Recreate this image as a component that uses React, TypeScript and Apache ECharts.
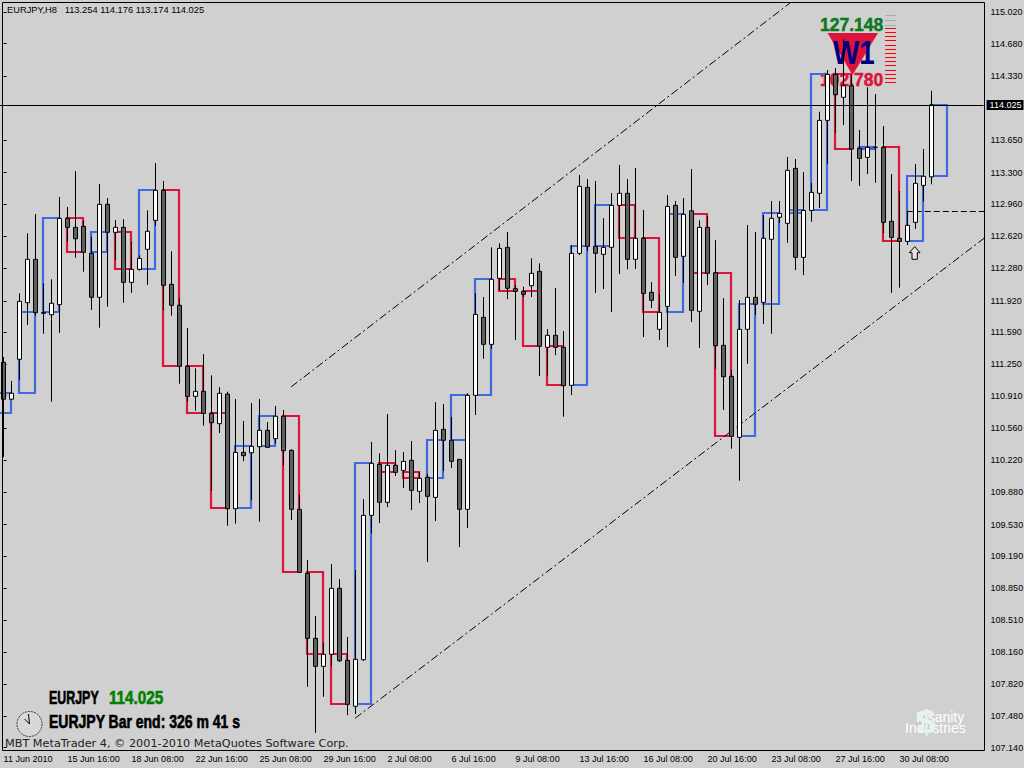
import React, { useEffect, useRef } from "react";
import * as echarts from "echarts";

const BG = "#D0D0D0";
const FONT = "'Liberation Sans', Arial, sans-serif";
const BLUE = "#4169E1";
const RED = "#DC143C";

const opens = [111.268,110.872,111.300,111.906,112.371,111.799,111.777,111.885,112.810,112.713,112.724,112.435,111.964,112.960,112.660,112.713,112.124,112.264,112.478,112.788,113.110,112.103,111.878,111.225,110.903,110.957,110.721,110.610,110.928,109.699,110.303,110.299,110.363,110.539,110.450,110.690,110.325,109.693,109.007,108.311,108.011,108.140,108.847,108.075,107.583,108.082,109.628,110.175,109.768,110.164,110.110,110.218,109.886,110.036,109.821,110.550,110.432,110.228,109.693,110.914,111.749,111.460,112.167,112.499,112.056,112.024,112.088,112.242,111.428,111.557,111.428,111.021,112.435,113.142,112.510,112.424,112.499,112.949,113.078,112.371,112.596,112.017,111.621,111.867,112.949,112.403,112.891,111.814,112.713,112.227,111.450,111.117,110.464,111.621,111.964,111.910,112.585,112.821,112.756,113.345,112.392,112.895,113.078,113.859,114.352,114.106,114.230,113.560,113.463,113.570,113.570,112.778,112.596,112.563,112.767,113.163,113.254];
const closes = [110.872,110.936,111.921,112.371,111.799,111.792,111.900,112.810,112.713,112.591,112.446,111.964,112.960,112.660,112.713,112.124,112.264,112.381,112.671,113.110,112.092,111.878,111.225,110.903,110.957,110.721,110.621,110.936,109.699,110.303,110.267,110.368,110.539,110.357,110.690,110.321,109.693,109.018,108.311,108.011,108.140,108.847,108.071,107.604,108.086,109.628,110.186,109.768,110.164,110.089,110.207,109.896,110.025,109.832,110.539,110.432,110.207,109.693,110.914,111.781,111.460,112.157,112.488,112.060,112.028,111.996,112.221,111.439,111.557,111.428,111.017,112.435,113.153,112.510,112.435,112.499,112.949,113.078,112.371,112.596,112.006,111.932,111.803,112.938,112.392,112.853,111.824,112.713,112.221,111.445,111.113,110.475,111.621,111.964,111.889,112.596,112.810,112.863,113.324,112.392,112.895,113.088,113.859,114.352,114.134,114.230,113.552,113.452,113.570,113.570,112.767,112.606,112.563,112.735,113.185,113.260,114.025];
const lows = [110.253,110.864,111.078,111.667,111.767,111.574,110.846,111.584,112.556,112.388,112.238,111.828,111.638,111.863,112.363,111.906,112.013,112.249,112.098,112.727,111.828,111.767,111.038,110.846,110.749,110.589,109.889,110.510,109.517,109.539,110.210,109.792,109.560,110.350,110.400,110.157,109.578,109.011,107.792,107.300,107.685,108.014,108.057,107.489,107.500,108.071,109.436,109.546,109.717,110.050,109.921,109.685,109.760,109.128,109.568,110.103,110.135,109.289,109.492,110.703,111.306,111.410,112.039,111.945,111.506,111.967,111.967,111.121,111.121,111.345,110.685,110.917,112.417,112.460,112.010,112.053,111.806,112.213,112.264,112.267,111.538,111.849,111.506,111.431,112.192,112.117,111.699,111.421,112.095,111.199,110.757,110.342,109.999,111.252,111.774,111.678,111.574,112.759,112.548,112.256,112.202,112.773,112.920,113.391,113.727,113.809,113.209,113.156,113.284,113.191,112.652,112.013,112.067,112.524,112.698,112.992,113.174];
const highs = [111.324,111.068,112.007,112.649,112.856,112.114,112.157,113.038,112.931,113.316,112.784,112.613,113.177,113.027,112.792,112.799,112.556,112.413,112.895,113.402,113.209,112.456,111.953,111.635,111.203,111.356,111.128,111.000,110.953,110.874,110.639,110.832,110.874,110.628,110.800,110.757,110.336,109.857,109.150,108.550,108.264,109.107,108.946,108.325,109.043,109.803,110.414,110.293,110.714,110.328,110.307,110.425,110.096,110.071,110.842,110.821,110.682,110.232,110.936,112.007,111.967,112.499,112.542,112.663,112.095,112.077,112.381,112.328,111.624,112.063,111.603,112.521,113.274,113.231,113.209,112.813,113.081,113.381,113.231,113.349,112.899,112.127,111.999,113.059,112.995,113.027,113.338,112.788,112.834,112.577,111.956,111.185,111.935,112.738,112.663,112.845,112.995,112.995,113.466,113.445,113.306,113.188,113.952,114.398,114.420,114.727,114.345,113.756,114.213,114.141,113.798,113.284,113.102,112.891,113.391,113.552,114.176];

const dailyOpen = [110.724,110.942,111.809,112.813,112.452,112.666,112.270,113.113,111.228,110.724,109.707,110.371,110.694,109.021,108.140,107.611,110.192,110.092,110.028,110.435,110.920,112.163,112.031,111.442,111.024,112.513,112.956,112.596,111.806,112.859,112.224,110.481,111.895,112.870,112.899,114.355,113.552,113.577,112.570,113.266];
const dailyClose = [110.942,111.809,112.813,112.452,112.666,112.270,113.113,111.228,110.724,109.707,110.371,110.694,109.021,108.140,107.611,110.192,110.092,110.028,110.435,110.920,112.163,112.031,111.442,111.024,112.513,112.956,112.596,111.806,112.859,112.224,110.481,111.895,112.870,112.899,114.355,113.552,113.577,112.570,113.266,114.023];

const timeLabels = ["11 Jun 2010","15 Jun 16:00","18 Jun 08:00","22 Jun 16:00","25 Jun 08:00","29 Jun 16:00","2 Jul 08:00","6 Jul 16:00","9 Jul 08:00","13 Jul 16:00","16 Jul 08:00","20 Jul 16:00","23 Jul 08:00","27 Jul 16:00","30 Jul 08:00"];
const priceTicks = [115.02,114.68,114.33,113.65,113.3,112.96,112.62,112.28,111.92,111.59,111.25,110.91,110.56,110.22,109.88,109.53,109.19,108.85,108.51,108.16,107.82,107.48,107.14];
const trendLines = [
  [35.925, 111.003, 98.3, 115.116],
  [43.925, 107.454, 122.6, 112.599],
];
const levelLine = [112.9, 112.885, 122.6, 112.885];
const currentPrice = 114.025;

const SLOTS = 123;
const BARS_PER_DAY = 3;
const LABEL_STEP = 8;

const categories = Array.from({ length: SLOTS }, (_, i) =>
  i % LABEL_STEP === 0 ? timeLabels[i / LABEL_STEP] || "" : ""
);
const candles = opens.map((o, i) => [o, closes[i], lows[i], highs[i]]);
const boxes = dailyOpen.map((o, k) => [
  -1 + k * BARS_PER_DAY,
  1 + k * BARS_PER_DAY,
  o,
  dailyClose[k],
]);

const textEl = (text: string, x: number, y: number, fontSize: number, fill: string, extra: any = {}, scaleX = 1) => ({
  type: "text",
  x,
  y,
  scaleX,
  z: extra.z ?? 20,
  style: {
    text,
    fill,
    fontFamily: extra.fontFamily ?? FONT,
    fontSize,
    fontWeight: extra.fontWeight ?? "normal",
    textVerticalAlign: "middle",
    textAlign: "left",
    stroke: extra.heavy ? fill : undefined,
    lineWidth: extra.heavy ? extra.heavy : undefined,
  },
});

const hatch = (): any[] => {
  const out: any[] = [];
  [15.5, 20.5, 25.5].forEach((y) =>
    out.push({ type: "line", z: 1, shape: { x1: 885, y1: y, x2: 896, y2: y }, style: { stroke: "#ABABAB", lineWidth: 1 } })
  );
  for (let y = 28.5; y <= 83; y += 4.15) {
    const yy = Math.floor(y) + 0.5;
    out.push({ type: "line", z: 1, shape: { x1: 885, y1: yy, x2: 896, y2: yy }, style: { stroke: "#FF0000", lineWidth: 1 } });
  }
  return out;
};

const clock = (): any[] => {
  const cx = 29.5, cy = 724;
  return [
    { type: "circle", z: 20, shape: { cx, cy, r: 12.5 }, style: { fill: "#D8D8D8", stroke: "#333", lineWidth: 1, lineDash: [2, 1] } },
    { type: "line", z: 20, shape: { x1: cx, y1: cy, x2: cx - 1, y2: cy - 10 }, style: { stroke: "#000", lineWidth: 1 } },
    { type: "line", z: 20, shape: { x1: cx, y1: cy, x2: cx - 5, y2: cy - 5 }, style: { stroke: "#000", lineWidth: 1 } },
  ];
};

export default function App() {
  const ref = useRef<HTMLDivElement>(null);
  useEffect(() => {
    const chart = echarts.init(ref.current!, undefined, { renderer: "svg" });
    chart.setOption({
      animation: false,
      backgroundColor: BG,
      grid: { left: -0.4, top: 2, width: 984, height: 748, containLabel: false, outerBoundsMode: "none" },
      xAxis: [
        {
          type: "category",
          data: categories,
          boundaryGap: true,
          axisLine: { show: false },
          axisTick: {
            alignWithLabel: true,
            length: 3,
            interval: (i: number) => i % LABEL_STEP === 0 && i / LABEL_STEP < timeLabels.length,
            lineStyle: { color: "#000" },
          },
          axisLabel: {
            interval: (i: number) => i % LABEL_STEP === 0 && i / LABEL_STEP < timeLabels.length,
            align: "left",
            margin: 4,
            color: "#000",
            fontFamily: FONT,
            fontSize: 9,
            hideOverlap: false,
          },
          splitLine: { show: false },
        },
        { type: "value", show: false, min: -0.5, max: SLOTS - 0.5, splitLine: { show: false } },
      ],
      yAxis: {
        type: "value",
        position: "right",
        offset: 1,
        min: 107.115,
        max: 115.127,
        axisLine: { show: false },
        splitLine: { show: false },
        axisTick: { show: true, length: 3, customValues: priceTicks, lineStyle: { color: "#000" } },
        axisLabel: {
          customValues: priceTicks,
          formatter: (v: number) => v.toFixed(3),
          margin: 6,
          color: "#000",
          fontFamily: FONT,
          fontSize: 9,
          showMinLabel: true,
          showMaxLabel: true,
        },
      },
      series: [
        {
          type: "custom",
          name: "Daily range",
          xAxisIndex: 1,
          z: 2,
          clip: true,
          encode: { x: [0, 1], y: [2, 3] },
          data: boxes,
          renderItem: (_: any, api: any) => {
            const o = api.value(2), c = api.value(3);
            const p0 = api.coord([api.value(0), o]);
            const p1 = api.coord([api.value(1), c]);
            const x0 = Math.floor(p0[0]), x1 = Math.floor(p1[0]);
            const y0 = Math.round(Math.min(p0[1], p1[1])), y1 = Math.round(Math.max(p0[1], p1[1]));
            return {
              type: "rect",
              shape: { x: x0, y: y0, width: x1 - x0, height: y1 - y0 },
              style: { fill: "none", stroke: c >= o ? BLUE : RED, lineWidth: 2.2 },
            };
          },
        },
        {
          type: "custom",
          name: "Trend lines",
          xAxisIndex: 1,
          z: 3,
          clip: true,
          encode: { x: [0, 2], y: [1, 3] },
          data: [...trendLines, levelLine],
          renderItem: (params: any, api: any) => {
            const a = api.coord([api.value(0), api.value(1)]);
            const b = api.coord([api.value(2), api.value(3)]);
            const isLevel = params.dataIndex === trendLines.length;
            return {
              type: "line",
              shape: { x1: a[0], y1: isLevel ? Math.floor(a[1]) + 0.5 : a[1], x2: b[0], y2: isLevel ? Math.floor(b[1]) + 0.5 : b[1] },
              style: { stroke: "#000", lineWidth: 1, lineDash: isLevel ? [6, 3] : [8, 3, 2, 3], fill: "none" },
            };
          },
        },
        {
          type: "candlestick",
          name: "EURJPY,H8",
          xAxisIndex: 0,
          z: 4,
          barWidth: 5,
          data: candles,
          itemStyle: {
            color: "#FFFFFF",
            color0: "#606060",
            borderColor: "#000000",
            borderColor0: "#000000",
            borderWidth: 1,
          },
          markLine: {
            silent: true,
            symbol: "none",
            animation: false,
            precision: 3,
            lineStyle: { color: "#000", type: "solid", width: 1 },
            label: {
              show: true,
              position: "end",
              distance: 3,
              formatter: currentPrice.toFixed(3),
              color: "#FFF",
              backgroundColor: "#000",
              fontFamily: FONT,
              fontSize: 9,
              lineHeight: 10,
              padding: [0, 2, 0, 3],
            },
            data: [{ yAxis: currentPrice }],
          },
        },
      ],
      graphic: {
        elements: [
          { type: "rect", z: 10, shape: { x: 2.5, y: 2.5, width: 982, height: 748 }, style: { fill: "none", stroke: "#000", lineWidth: 1 } },
          textEl("EURJPY,H8   113.254 114.176 113.174 114.025", 7, 10, 9.3, "#000"),
          { type: "polygon", z: 1, shape: { points: [[827.5, 33], [878, 33], [852.5, 75]] }, style: { fill: RED } },
          textEl("127.148", 820, 24.5, 17.5, "#0B7A1E", { fontWeight: "bold", z: 1, heavy: 0.5 }),
          textEl("102.780", 820, 80, 17.5, RED, { fontWeight: "bold", z: 1, heavy: 0.5 }),
          textEl("W1", 833, 52.5, 34, "#000080", { fontWeight: "bold", z: 1 }, 0.82),
          ...hatch(),
          { type: "polygon", z: 20, shape: { points: [[914.7, 246.7], [909.3, 252.7], [912, 252.7], [912, 259.3], [917.3, 259.3], [917.3, 252.7], [920, 252.7]] }, style: { fill: "#E4E4E4", stroke: "#000", lineWidth: 1 } },
          textEl("EURJPY", 49, 697.5, 17.5, "#000", { fontWeight: "bold", heavy: 0.6 }, 0.71),
          textEl("114.025", 109, 697.5, 17.5, "#008000", { fontWeight: "bold", heavy: 0.6 }, 0.87),
          textEl("EURJPY Bar end: 326 m 41 s", 49, 721.5, 17.5, "#000", { fontWeight: "bold", heavy: 0.6 }, 0.8),
          ...clock(),
          textEl("MBT MetaTrader 4, © 2001-2010 MetaQuotes Software Corp.", 5, 743.5, 11.25, "#222", { fontFamily: "'DejaVu Sans', sans-serif" }),
          textEl("Insanity", 916, 717, 14, "#FFFFFF"),
          textEl("Industries", 905, 728, 14, "#FFFFFF"),
          textEl("$", 917, 721, 34, "#E6F2F0", { fontWeight: "bold" }),
        ],
      },
    });
    return () => chart.dispose();
  }, []);
  return <div ref={ref} style={{ position: "fixed", left: 0, top: 0, width: 1024, height: 768 }} />;
}
